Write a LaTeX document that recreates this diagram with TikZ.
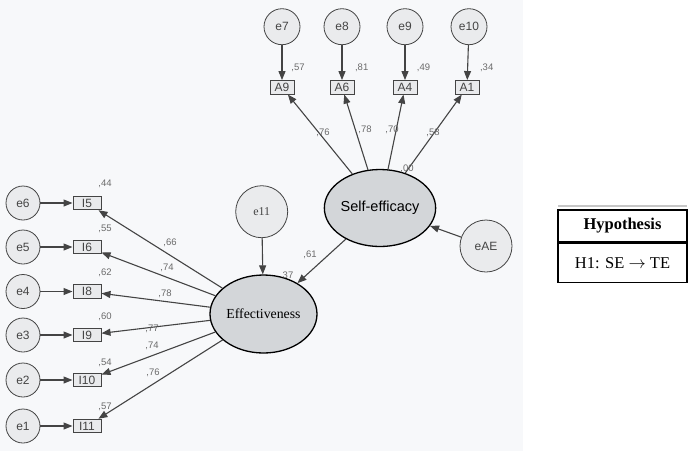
\documentclass[tikz,border=0pt]{standalone}
\usepackage{fontspec}
\setmainfont{Liberation Serif}
\setsansfont{Liberation Sans}
\usetikzlibrary{arrows.meta,shapes.geometric}
\definecolor{bg}{HTML}{F7F8FA}
\definecolor{errfill}{HTML}{EAEBED}
\definecolor{obsfill}{HTML}{E9EAEC}
\definecolor{latfill}{HTML}{D3D6D9}
\definecolor{edge}{HTML}{444444}
\definecolor{txt}{HTML}{444444}
\definecolor{lbl}{HTML}{6A6A6A}
\begin{document}
\begin{tikzpicture}[x=1pt,y=-1pt,
  err/.style={circle, draw=edge, line width=0.8pt, fill=errfill, inner sep=0pt, minimum size=#1,
    font=\sffamily\fontsize{12}{14}\selectfont, text=txt},
  err/.default=35pt,
  obs/.style={rectangle, draw=edge, line width=1pt, fill=obsfill, inner sep=0pt,
    minimum width=#1, minimum height=13.5pt, font=\sffamily\fontsize{12}{13}\selectfont, text=txt},
  obs/.default=25pt,
  lat/.style={ellipse, draw=black, line width=1.3pt, fill=latfill, inner sep=0pt},
  arr/.style={draw=edge, line width=1.1pt, -{Triangle[length=9pt,width=7pt]}},
  lab/.style={font=\sffamily\fontsize{9.5}{11}\selectfont, text=lbl, inner sep=0pt}
]
\useasboundingbox (0,0) rectangle (696,451);
\fill[bg] (0,0) rectangle (523,451);

% latent variables
\node[lat, minimum width=105pt, minimum height=77pt, font=\sffamily\fontsize{14.5}{16}\selectfont] (se) at (380,208) {Self-efficacy};
\node[lat, minimum width=107pt, minimum height=78pt, font=\fontsize{13.8}{15}\selectfont] (te) at (263.5,314) {Effectiveness};

% top indicators
\node[err=36pt] (e7) at (282,26.7) {e7};
\node[err=36pt] (e8) at (342,26.7) {e8};
\node[err=36pt] (e9) at (405,26.7) {e9};
\node[err=36pt] (e10) at (469,26.7) {e10};
\node[obs=24pt] (a9) at (282,87.3) {A9};
\node[obs=24pt] (a6) at (342,87.3) {A6};
\node[obs=24pt] (a4) at (405,87.3) {A4};
\node[obs=24pt] (a1) at (467,87.3) {A1};
\foreach \e/\a in {e7/a9,e8/a6,e9/a4,e10/a1} \draw[arr] (\e) -- (\a);
\foreach \a in {a9,a6,a4,a1} \draw[arr] (se) -- (\a);
\node[lab] (r57) at (298,68) {,57};
\node[lab] (r81) at (361.7,68) {,81};
\node[lab] (r49) at (423.5,68) {,49};
\node[lab] (r34) at (486.7,68) {,34};
\node[lab] (l76) at (323,133) {,76};
\node[lab] (l78) at (365,130) {,78};
\node[lab] (l70) at (392,130) {,70};
\node[lab] (l58) at (433,133) {,58};
\node[lab] (r00) at (407,169) {,00};

% disturbances
\node[err=52pt] (eae) at (486,246) {eAE};
\node[err=52pt, font=\fontsize{12}{13}\selectfont] (e11) at (261.7,211.7) {e11};
\draw[arr] (eae) -- (se);
\draw[arr] (e11) -- (te);
\draw[arr] (se) -- (te);
\node[lab] (l61) at (310,255) {,61};
\node[lab] (r37) at (288,275.5) {37};

% left indicators
\foreach \e/\i/\n/\y in {e6/i5/I5/203, e5/i6/I6/247, e4/i8/I8/291.5, e3/i9/I9/335, e2/i10/I10/380, e1/i11/I11/426} {
  \node[err=34pt] (\e) at (23,\y) {\e};
  \node[obs=28pt] (\i) at (87,\y) {\n};
  \draw[arr] (\e) -- (\i);
  \draw[arr] (te) -- (\i);
}
\node[lab] (r44) at (105,184) {,44};
\node[lab] (r55) at (105,229) {,55};
\node[lab] (r62) at (105,273) {,62};
\node[lab] (r60) at (105,317) {,60};
\node[lab] (r54) at (105,363) {,54};
\node[lab] (r57b) at (105,407) {,57};
\node[lab] (l66) at (170,243) {,66};
\node[lab] (l74) at (167,268) {,74};
\node[lab] (l78b) at (165,294) {,78};
\node[lab] (l77) at (152,329) {,77};
\node[lab] (l74b) at (152,346) {,74};
\node[lab] (l76b) at (153,373) {,76};

% hypothesis table
\draw[gray!45, line width=1.2pt] (558,206) -- (687,206);
\node[draw=black, line width=1.3pt, minimum width=129pt, minimum height=32pt, inner sep=0pt,
  font=\bfseries\fontsize{16.5}{18}\selectfont] (hyp) at (622.5,226) {Hypothesis};
\node[draw=black, line width=1.3pt, minimum width=129pt, minimum height=39pt, inner sep=0pt,
  font=\fontsize{16.5}{18}\selectfont, anchor=north] (h1) at (hyp.south) {H1: SE $\rightarrow$ TE};
\end{tikzpicture}
\end{document}
